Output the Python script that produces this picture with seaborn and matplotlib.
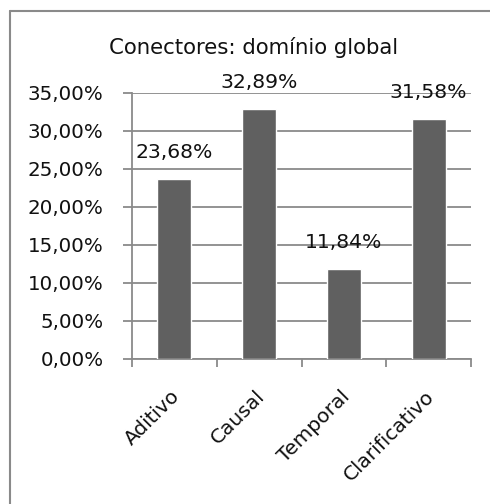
import matplotlib
matplotlib.use("Agg")
import matplotlib.pyplot as plt
import seaborn as sns
import pandas as pd
from matplotlib.lines import Line2D
from matplotlib.ticker import FuncFormatter, FixedLocator
from matplotlib.transforms import ScaledTranslation

categorias = ["Aditivo", "Causal", "Temporal", "Clarificativo"]
percentuais = [23.68, 32.89, 11.84, 31.58]
rotulos = ["23,68%", "32,89%", "11,84%", "31,58%"]
titulo = "Conectores: domínio global"

sns.set_theme(style="white")
plt.rcParams["font.family"] = ["DejaVu Sans"]

df = pd.DataFrame({"categoria": categorias, "valor": [v / 100 for v in percentuais]})

fig = plt.figure(figsize=(4.9, 5.04), dpi=100)
ax = fig.add_axes([132 / 490, 1 - 359 / 504, (471 - 132) / 490, (359 - 93) / 504])

sns.barplot(data=df, x="categoria", y="valor", color="#606060", saturation=1,
            width=0.4, ax=ax, zorder=3)

grid_col = "#8a8a8a"
ax.set_ylim(0, 0.35)
ax.set_xlim(-0.5, 3.5)
ax.set_yticks([i * 0.05 for i in range(8)])
ax.yaxis.set_major_formatter(FuncFormatter(lambda v, _: f"{v * 100:.2f}%".replace(".", ",")))
ax.grid(axis="y", color=grid_col, linewidth=1.3, zorder=0)
ax.set_xlabel("")
ax.set_ylabel("")

for s in ["top", "right"]:
    ax.spines[s].set_visible(False)
for s in ["left", "bottom"]:
    ax.spines[s].set_color(grid_col)
    ax.spines[s].set_linewidth(1.3)

ax.tick_params(axis="y", which="major", length=6.5, width=1.3, color=grid_col,
               direction="out", labelsize=14.3, pad=14, left=True, labelcolor="#111111")
ax.tick_params(axis="x", which="major", length=0, labelsize=14.5, pad=20,
               labelcolor="#111111")
ax.xaxis.set_minor_locator(FixedLocator([-0.5, 0.5, 1.5, 2.5, 3.5]))
ax.tick_params(axis="x", which="minor", length=6, width=1.3, color=grid_col,
               direction="out", bottom=True)
shift = ScaledTranslation(-4 / 100, 0, fig.dpi_scale_trans)
for lbl in ax.get_xticklabels():
    lbl.set_rotation(45)
    lbl.set_ha("right")
    lbl.set_rotation_mode("anchor")
    lbl.set_transform(lbl.get_transform() + shift)

for i, (v, txt) in enumerate(zip(df["valor"], rotulos)):
    ax.annotate(txt, (i, v), xytext=(0, 19), textcoords="offset points",
                ha="center", va="center", fontsize=14.7, color="#111111", zorder=4)

fig.text(254 / 490, 1 - 47 / 504, titulo, ha="center", va="center", fontsize=15.3,
         color="#111111")

# chart frame
frame_col = "#8a8a8a"
fig.add_artist(Line2D([10 / 490, 1], [1 - 11 / 504, 1 - 11 / 504],
                      transform=fig.transFigure, color=frame_col, linewidth=1.5))
fig.add_artist(Line2D([10 / 490, 10 / 490], [0, 1 - 11 / 504],
                      transform=fig.transFigure, color=frame_col, linewidth=1.5))

fig.savefig("out.png", dpi=100, facecolor="white")
